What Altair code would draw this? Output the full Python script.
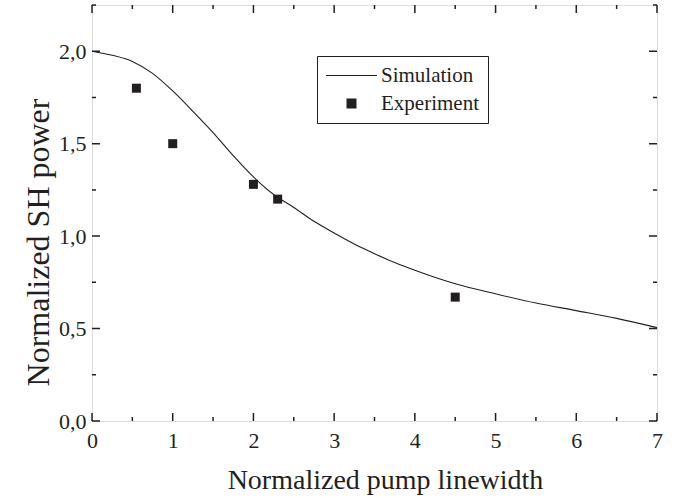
import altair as alt
import pandas as pd

# ---------------- data ----------------
sim_x = [0.0, 0.25, 0.5, 0.75, 1.0, 1.25, 1.5, 1.75, 2.0, 2.25, 2.5, 2.75, 3.0,
         3.25, 3.5, 3.75, 4.0, 4.5, 5.0, 5.5, 6.0, 6.5, 7.0]
sim_y = [2.0, 1.978, 1.945, 1.88, 1.785, 1.675, 1.56, 1.435, 1.32, 1.225, 1.155,
         1.08, 1.017, 0.957, 0.905, 0.857, 0.815, 0.742, 0.688, 0.638, 0.597,
         0.555, 0.505]
exp_x = [0.55, 1.0, 2.0, 2.3, 4.5]
exp_y = [1.80, 1.50, 1.28, 1.20, 0.67]

series_names = ["Simulation", "Experiment"]
x_major = [0, 1, 2, 3, 4, 5, 6, 7]
x_minor = [0.5, 1.5, 2.5, 3.5, 4.5, 5.5, 6.5]
y_major = [0.0, 0.5, 1.0, 1.5, 2.0]
y_minor = [0.25, 0.75, 1.25, 1.75, 2.25]
X_MIN, X_MAX = 0, 7
Y_MIN, Y_MAX = 0, 2.25

sim_df = pd.DataFrame({"x": sim_x, "y": sim_y, "series": "Simulation"})
exp_df = pd.DataFrame({"x": exp_x, "y": exp_y, "series": "Experiment"})

# ---------------- style ----------------
FONT = "Liberation Serif"
INK = "#231f20"
W, H = 565, 416
LINE_PATH = "M-3.4,-0.07L3.4,-0.07L3.4,0.07L-3.4,0.07Z"
SQUARE_PATH = "M-0.667,-0.667L0.667,-0.667L0.667,0.667L-0.667,0.667Z"


def xs():
    return alt.Scale(domain=[X_MIN, X_MAX], nice=False, zero=False)


def ys():
    return alt.Scale(domain=[Y_MIN, Y_MAX], nice=False, zero=False)


x_axis = alt.Axis(
    orient="bottom", values=x_major, ticks=False, domain=False, grid=False,
    format="d",
    labelFont=FONT, labelFontSize=22, labelColor=INK, labelPadding=26,
    labelBaseline="alphabetic", labelFlush=False,
    title="Normalized pump linewidth", titleFont=FONT, titleFontSize=28,
    titleFontWeight="normal", titleColor=INK, titleX=293, titleY=67,
    titleBaseline="alphabetic")

y_axis = alt.Axis(
    orient="left", values=y_major, ticks=False, domain=False, grid=False,
    format=".1f",
    labelFont=FONT, labelFontSize=22, labelColor=INK, labelPadding=6,
    labelFlush=False,
    title="Normalized SH power", titleFont=FONT, titleFontSize=32,
    titleFontWeight="normal", titleColor=INK, titleX=-44, titleY=237,
    titleAngle=270, titleBaseline="alphabetic")


line = alt.Chart(sim_df).mark_line(color=INK, strokeWidth=1.1, interpolate="monotone").encode(
    x=alt.X("x:Q", scale=xs(), axis=x_axis),
    y=alt.Y("y:Q", scale=ys(), axis=y_axis),
)

points = alt.Chart(exp_df).mark_point(filled=True, color=INK, opacity=1, size=182).encode(
    x=alt.X("x:Q", scale=xs(), axis=x_axis),
    y=alt.Y("y:Q", scale=ys(), axis=y_axis),
    shape=alt.Shape("series:N",
                    scale=alt.Scale(domain=series_names, range=[LINE_PATH, SQUARE_PATH]),
                    legend=alt.Legend(title=None, orient="none", legendX=225, legendY=51,
                                      padding=9, strokeColor=INK, fillColor="white",
                                      symbolSize=225, symbolOffset=15, labelOffset=19,
                                      symbolFillColor=INK, symbolStrokeWidth=0,
                                      labelFont=FONT, labelFontSize=21, labelColor=INK,
                                      rowPadding=6)),
)


def x_tick_path(length):
    # one symbol per x value anchored on the top frame: an inward tick at the top
    # and the matching inward tick at the bottom frame (pixel units, size 4 -> scale 1)
    t = 0.75
    return (f"M{-t},0L{t},0L{t},{length}L{-t},{length}Z"
            f"M{-t},{H - length}L{t},{H - length}L{t},{H}L{-t},{H}Z")


def y_tick_path(length):
    # one symbol per y value anchored on the right frame: inward ticks right and left
    t = 0.75
    return (f"M0,{-t}L0,{t}L{-length},{t}L{-length},{-t}Z"
            f"M{-W},{-t}L{-W},{t}L{-W + length},{t}L{-W + length},{-t}Z")


def x_frame_ticks(values, length):
    df = pd.DataFrame({"x": values, "y": Y_MAX})
    return alt.Chart(df).mark_point(shape=x_tick_path(length), size=4, filled=True,
                                    color=INK, opacity=1).encode(
        x=alt.X("x:Q", scale=xs(), axis=x_axis),
        y=alt.Y("y:Q", scale=ys(), axis=y_axis),
    )


def y_frame_ticks(values, length):
    df = pd.DataFrame({"x": X_MAX, "y": values})
    return alt.Chart(df).mark_point(shape=y_tick_path(length), size=4, filled=True,
                                    color=INK, opacity=1).encode(
        x=alt.X("x:Q", scale=xs(), axis=x_axis),
        y=alt.Y("y:Q", scale=ys(), axis=y_axis),
    )


ticks = [
    x_frame_ticks(x_major, 8), x_frame_ticks(x_minor, 4),
    y_frame_ticks(y_major, 8), y_frame_ticks(y_minor, 4),
]

chart = alt.layer(*ticks, line, points).properties(
    width=W, height=H,
    autosize=alt.AutoSizeParams(type="none"),
    padding={"left": 92, "top": 5, "right": 28, "bottom": 77},
    background="white",
).configure_view(stroke=INK, strokeWidth=2).configure(
    locale={"number": {"decimal": ",", "thousands": ".", "grouping": [3],
                       "currency": ["", ""]}}
)

chart.save("out.html", embed_options={"renderer": "svg", "actions": False})
